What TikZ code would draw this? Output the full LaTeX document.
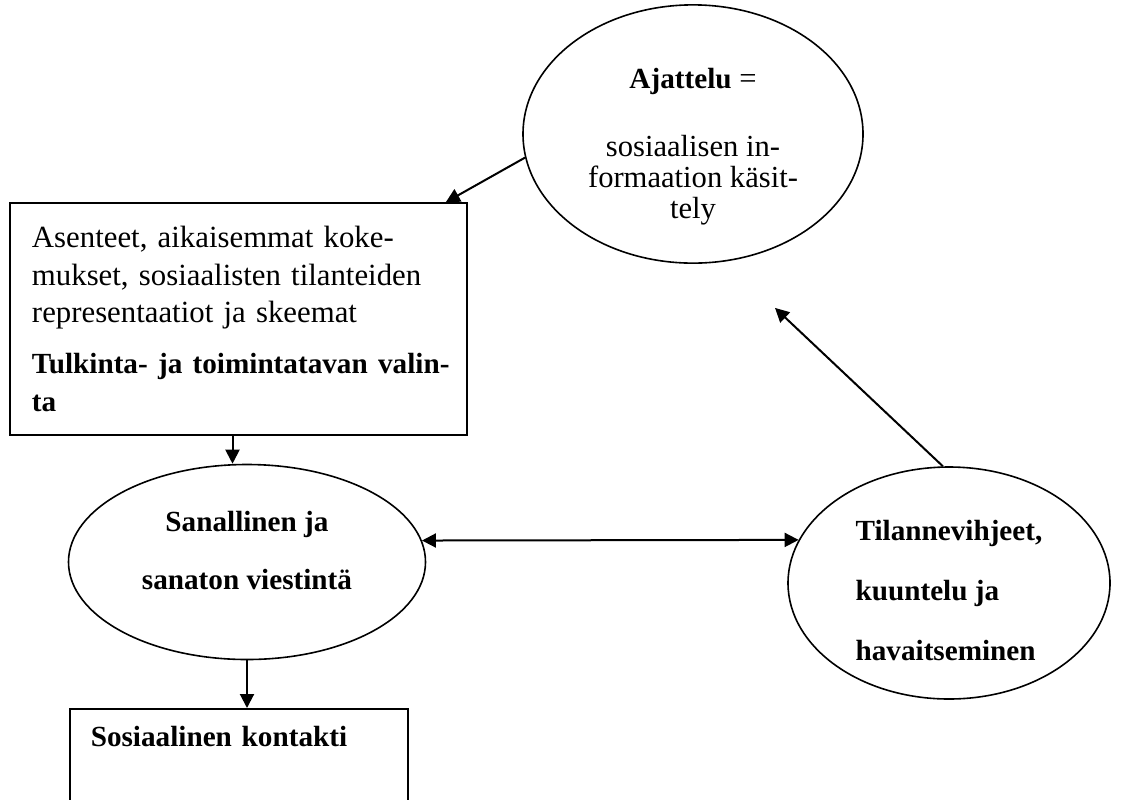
\documentclass[tikz,border=0pt]{standalone}
\usepackage{fontspec}
\setmainfont{Liberation Serif}
\usetikzlibrary{shapes.geometric,arrows.meta}

\newcommand{\boldtext}[1]{\mbox{\bfseries\fontsize{14.6pt}{18.75pt}\selectfont #1}}

\begin{document}
\begin{tikzpicture}[x=0.5pt, y=-0.5pt,
    oval/.style={ellipse, draw=black, line width=0.8pt, inner sep=0pt, align=center},
    block/.style={rectangle, draw=black, line width=0.8pt, align=left},
    arrow/.style={-{Triangle[length=7pt, width=7pt]}, line width=1pt, draw=black},
    twoway/.style={{Triangle[length=7pt, width=7pt]}-{Triangle[length=7pt, width=7pt]}, line width=1pt, draw=black}
]
    \clip (0,0) rectangle (1134,799);

    % Nodes
    \node[oval, minimum width=170pt, minimum height=124pt, font=\fontsize{15.3pt}{15.5pt}\selectfont] (ajattelu) at (693,134)
        {\rule{0pt}{23pt}\boldtext{Ajattelu} =\\[18.5pt] sosiaalisen in-\\formaation käsit-\\tely};
    \node[block, minimum width=228.5pt, minimum height=116pt, inner xsep=11pt, text width=206.5pt,
        font=\fontsize{15.4pt}{18.75pt}\selectfont] (asenteet) at (238.5,319)
        {Asenteet, aikaisemmat koke-\\mukset, sosiaalisten tilanteiden\\representaatiot ja skeemat\\[6.75pt]
         \boldtext{Tulkinta- ja toimintatavan valin-}\\\boldtext{ta}};
    \node[oval, minimum width=178.5pt, minimum height=97.5pt, font=\bfseries\fontsize{14.6pt}{29pt}\selectfont] (sanallinen) at (247,562)
        {Sanallinen ja\\sanaton viestintä\rule[-11.5pt]{0pt}{0pt}};
    \node[oval, minimum width=161pt, minimum height=116pt, align=left, font=\bfseries\fontsize{14.6pt}{30pt}\selectfont] (tilanne) at (949,583)
        {\rule{0pt}{18pt}Tilannevihjeet,\\kuuntelu ja\\havaitseminen};
    \node[block, anchor=north west, minimum width=169pt, inner xsep=10.5pt, inner ysep=9pt, text width=148pt,
        text height=10pt, text depth=80pt, font=\bfseries\fontsize{14.6pt}{18.75pt}\selectfont] (kontakti) at (69,708)
        {Sosiaalinen kontakti};

    \coordinate (asout) at ([xshift=-3pt]asenteet.south);
    \coordinate (kohde) at ([xshift=41pt, yshift=-22pt]ajattelu.south);

    % Arrows
    \draw[arrow] (ajattelu.188) -- ([xshift=-11pt]asenteet.north east);
    \draw[arrow] (asout) -- (asout |- sanallinen.north);
    \draw[twoway] (sanallinen.7) -- (tilanne.164);
    \draw[arrow] (tilanne.93) -- (kohde);
    \draw[arrow] (sanallinen.south) -- (sanallinen.south |- kontakti.north);
\end{tikzpicture}
\end{document}
